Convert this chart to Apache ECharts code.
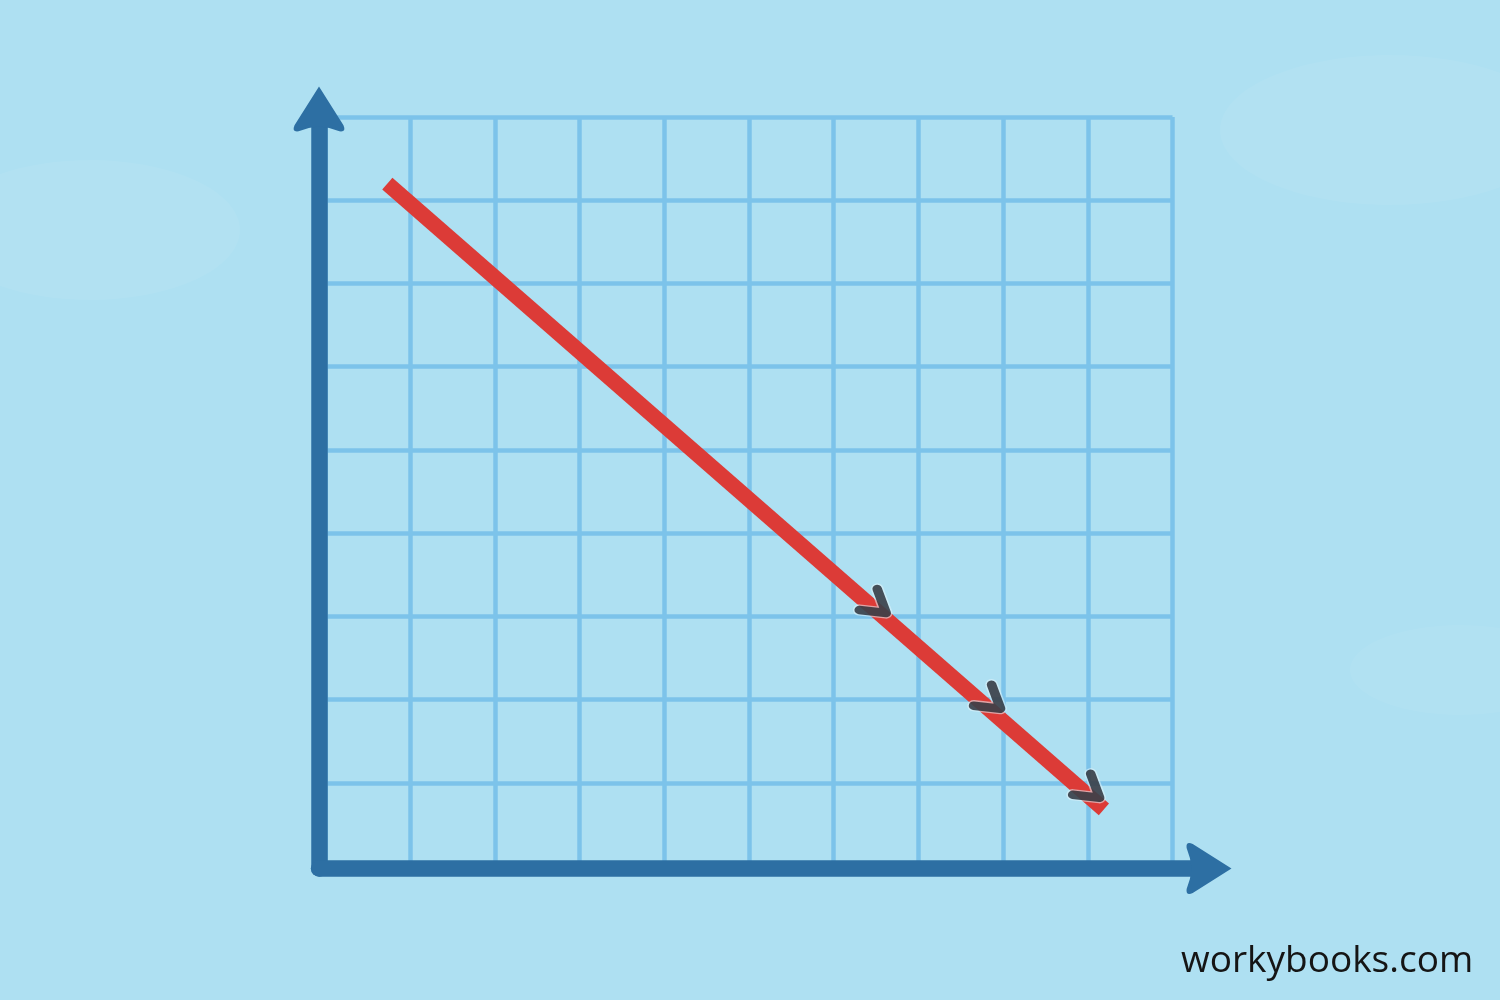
<!DOCTYPE html>
<html>
<head>
<meta charset="utf-8">
<script src="https://cdn.jsdelivr.net/npm/echarts@6/dist/echarts.min.js"></script>
<style>
  html, body { margin: 0; padding: 0; background: #aee0f2; }
  #chart { width: 1500px; height: 1000px; }
</style>
</head>
<body>
<div id="chart"></div>
<script>
// ---- data ----
const xMin = 0, xMax = 10;      // grid columns
const yMin = 0, yMax = 9;       // grid rows
const trendX = [0.73, 9.19];    // red decreasing line
const trendY = [8.2, 0.68];
const arrowX = [6.62, 7.97, 9.14]; // direction chevrons along the line
const arrowY = [3.04, 1.89, 0.82];
const watermark = 'workybooks.com';

const trendData = trendX.map((x, i) => [x, trendY[i]]);
const arrowData = arrowX.map((x, i) => [x, arrowY[i]]);

const axisColor = '#2d6fa3';
const gridColor = '#7cc3ea';
const chevronPath = 'path://M-9,-24 L0,0 L-27,-3';
const axisArrow = 'path://M25,0 L49,38 Q52,45 45,44 Q35,40 25,39 Q15,40 5,44 Q-2,45 1,38 Z';

const axisLineCommon = {
  show: true, onZero: false, symbol: ['none', axisArrow], symbolSize: [51, 45], symbolOffset: [0, 1],
  lineStyle: { color: axisColor, width: 16.5, cap: 'round' }
};

const chart = echarts.init(document.getElementById('chart'));
chart.setOption({
  backgroundColor: '#aee0f2',
  animation: false,
  title: {
    text: watermark,
    left: 1176,
    top: 938,
    textStyle: { fontFamily: 'Open Sans', fontSize: 37, fontWeight: 'normal', color: '#151515' }
  },
  graphic: [
    { type: 'ellipse', shape: { cx: 90, cy: 230, rx: 150, ry: 70 }, style: { fill: 'rgba(255,255,255,0.05)' }, z: -10 },
    { type: 'ellipse', shape: { cx: 1390, cy: 130, rx: 170, ry: 75 }, style: { fill: 'rgba(255,255,255,0.05)' }, z: -10 },
    { type: 'ellipse', shape: { cx: 1460, cy: 670, rx: 110, ry: 45 }, style: { fill: 'rgba(255,255,255,0.045)' }, z: -10 }
  ],
  grid: [
    { left: 325.5, top: 117, width: 847, height: 749 },
    { left: 319, top: 110, width: 889, height: 758.5 }
  ],
  xAxis: [
    {
      type: 'value', gridIndex: 0, min: xMin, max: xMax, interval: 1, z: 1,
      axisLine: { show: false }, axisTick: { show: false }, axisLabel: { show: false },
      splitLine: { show: true, lineStyle: { color: gridColor, width: 4.5 } }
    },
    {
      type: 'value', gridIndex: 1, min: 0, max: 1, z: 5,
      axisLine: axisLineCommon,
      axisTick: { show: false }, axisLabel: { show: false }, splitLine: { show: false }
    }
  ],
  yAxis: [
    {
      type: 'value', gridIndex: 0, min: yMin, max: yMax, interval: 1, z: 1,
      axisLine: { show: false }, axisTick: { show: false }, axisLabel: { show: false },
      splitLine: { show: true, lineStyle: { color: gridColor, width: 4.5 } }
    },
    {
      type: 'value', gridIndex: 1, min: 0, max: 1, z: 5,
      axisLine: axisLineCommon,
      axisTick: { show: false }, axisLabel: { show: false }, splitLine: { show: false }
    }
  ],
  series: [
    {
      type: 'line', xAxisIndex: 0, yAxisIndex: 0, data: trendData,
      symbol: 'none', silent: true, z: 3,
      lineStyle: { color: '#dc3b37', width: 15.5, cap: 'butt' }
    },
    {
      type: 'scatter', xAxisIndex: 0, yAxisIndex: 0, data: arrowData, silent: true, z: 4,
      symbol: chevronPath, symbolSize: [27, 24], symbolOffset: [-13.5, -12],
      itemStyle: { color: 'transparent', borderColor: 'rgba(225,244,252,0.7)', borderWidth: 12, borderCap: 'round', borderJoin: 'round' }
    },
    {
      type: 'scatter', xAxisIndex: 0, yAxisIndex: 0, data: arrowData, silent: true, z: 5,
      symbol: chevronPath, symbolSize: [27, 24], symbolOffset: [-13.5, -12],
      itemStyle: { color: 'transparent', borderColor: '#23272f', borderWidth: 9, borderCap: 'round', borderJoin: 'round' }
    }
  ]
});
</script>
</body>
</html>
